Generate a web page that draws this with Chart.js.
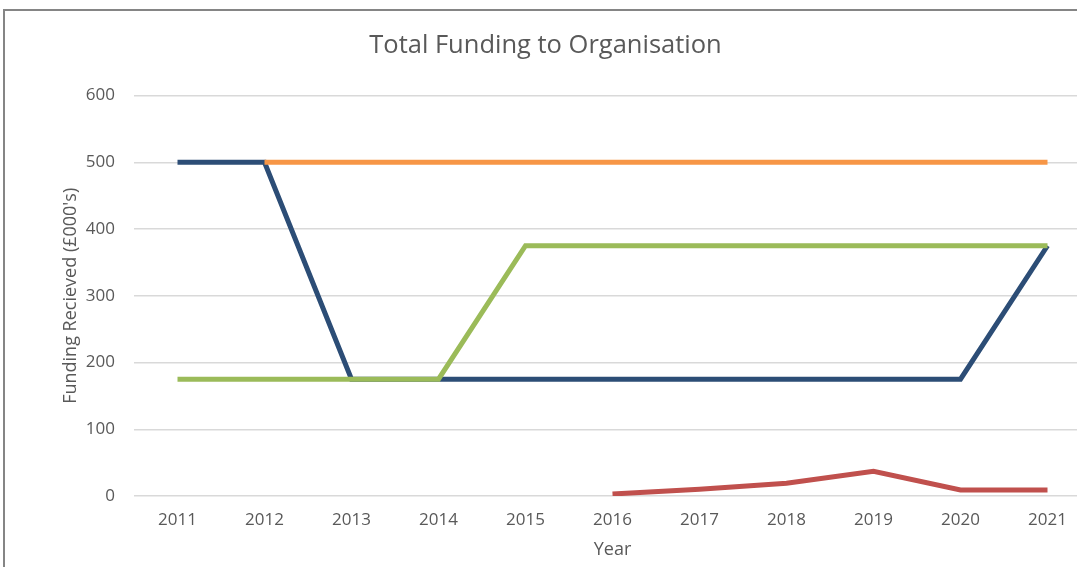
<!DOCTYPE html>
<html>
<head>
<meta charset="utf-8">
<title>Total Funding to Organisation</title>
<script src="https://cdn.jsdelivr.net/npm/chart.js@4.4.0/dist/chart.umd.min.js"></script>
<style>
    html, body {
        margin: 0;
        padding: 0;
        width: 1077px;
        height: 567px;
        overflow: hidden;
        background: #ffffff;
    }
    #frame {
        position: absolute;
        left: 3px;
        top: 9px;
        width: 1200px;
        height: 700px;
        border-top: 2px solid #858585;
        border-left: 2px solid #858585;
    }
    #fundingChart {
        position: absolute;
        left: 0;
        top: 0;
    }
</style>
</head>
<body>
<div id="frame"></div>
<canvas id="fundingChart" width="1100" height="567"></canvas>
<script>
// Años y series de financiación (miles de £)
const years = ['2011', '2012', '2013', '2014', '2015', '2016', '2017', '2018', '2019', '2020', '2021'];
const orangeSeries = [null, 500, 500, 500, 500, 500, 500, 500, 500, 500, 500];
const greenSeries = [175, 175, 175, 175, 375, 375, 375, 375, 375, 375, 375];
const blueSeries = [500, 500, 175, 175, 175, 175, 175, 175, 175, 175, 375];
const redSeries = [null, null, null, null, null, 3, 10, 19, 37, 9, 9];
const yTicks = [0, 100, 200, 300, 400, 500, 600];

const textColor = '#595959';
const fontFamily = "'Open Sans', 'Liberation Sans', sans-serif";

function lineDataset(values, color) {
    return {
        data: values,
        borderColor: color,
        backgroundColor: color,
        borderWidth: 5,
        pointRadius: 0,
        pointHoverRadius: 0,
        tension: 0,
        fill: false,
        spanGaps: false
    };
}

const ctx = document.getElementById('fundingChart');

new Chart(ctx, {
    type: 'line',
    data: {
        labels: years,
        // el orden define qué línea queda encima
        datasets: [
            lineDataset(redSeries, '#c0504d'),
            lineDataset(orangeSeries, '#f79646'),
            lineDataset(greenSeries, '#9bbb59'),
            lineDataset(blueSeries, '#2c4d76')
        ]
    },
    options: {
        responsive: false,
        animation: false,
        layout: {
            padding: { left: 0, right: 9, top: 0, bottom: 0 }
        },
        plugins: {
            legend: { display: false },
            tooltip: { enabled: false },
            title: {
                display: true,
                text: 'Total Funding to Organisation',
                color: textColor,
                font: { family: fontFamily, size: 25.5, weight: 'normal' },
                padding: { top: 30, bottom: 35 }
            }
        },
        scales: {
            x: {
                type: 'category',
                offset: true,
                grid: { display: false, drawTicks: false },
                border: { display: false },
                ticks: {
                    color: textColor,
                    font: { family: fontFamily, size: 17 },
                    padding: 14,
                    maxRotation: 0,
                    autoSkip: false
                },
                title: {
                    display: true,
                    text: 'Year',
                    color: textColor,
                    font: { family: fontFamily, size: 18 },
                    padding: { top: 2, bottom: 6 }
                },
                afterFit: function(scale) {
                    scale.height = 71;
                }
            },
            y: {
                min: 0,
                max: 600,
                afterBuildTicks: function(scale) {
                    scale.ticks = yTicks.map(v => ({ value: v }));
                },
                grid: {
                    color: '#d9d9d9',
                    lineWidth: 1.5,
                    drawTicks: false
                },
                border: { display: false },
                ticks: {
                    color: textColor,
                    font: { family: fontFamily, size: 17 },
                    padding: 19
                },
                title: {
                    display: true,
                    text: "Funding Recieved (£000's)",
                    color: textColor,
                    font: { family: fontFamily, size: 18 },
                    padding: { top: 60, bottom: 0 }
                },
                afterFit: function(scale) {
                    scale.width = 134;
                }
            }
        }
    }
});
</script>
</body>
</html>
